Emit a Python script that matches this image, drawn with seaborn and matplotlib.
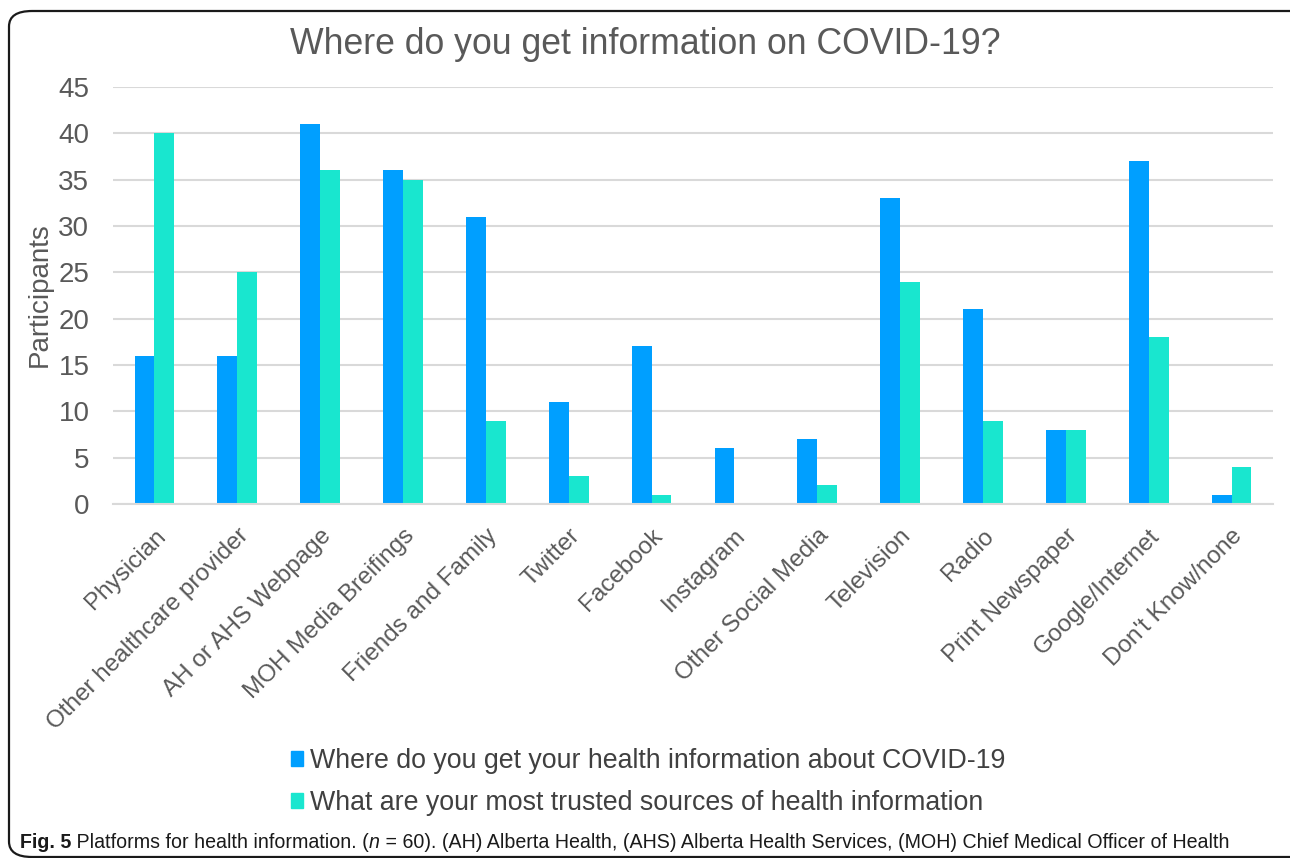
import matplotlib
matplotlib.use("Agg")
import matplotlib.pyplot as plt
from matplotlib.patches import FancyBboxPatch
import seaborn as sns
import pandas as pd

# Survey responses per information source (n = 60)
sources = [
    "Physician", "Other healthcare provider", "AH or AHS Webpage",
    "MOH Media Breifings", "Friends and Family", "Twitter", "Facebook",
    "Instagram", "Other Social Media", "Television", "Radio",
    "Print Newspaper", "Google/Internet", "Don't Know/none",
]
get_info = [16, 16, 41, 36, 31, 11, 17, 6, 7, 33, 21, 8, 37, 1]
trusted = [40, 25, 36, 35, 9, 3, 1, 0, 2, 24, 9, 8, 18, 4]
series_names = [
    "Where do you get your health information about COVID-19",
    "What are your most trusted sources of health information",
]
y_ticks = [0, 5, 10, 15, 20, 25, 30, 35, 40, 45]

df = pd.DataFrame({
    "Source": sources * 2,
    "Participants": get_info + trusted,
    "Series": [series_names[0]] * len(sources) + [series_names[1]] * len(sources),
})

sns.set_theme(style="white")
plt.rcParams["font.family"] = ["Liberation Sans", "DejaVu Sans"]

TEXT = "#595959"
palette = {series_names[0]: "#009FFF", series_names[1]: "#19E6CF"}

fig = plt.figure(figsize=(12.9, 8.58), dpi=100)
ax = fig.add_axes([113 / 1290, 354 / 858, 1160 / 1290, 417 / 858])

sns.barplot(data=df, x="Source", y="Participants", hue="Series",
            palette=palette, width=0.48, saturation=1, ax=ax,
            legend=False, edgecolor="none")

ax.set_ylim(0, 45)
ax.set_xlim(-0.5, len(sources) - 0.5)
ax.set_yticks(y_ticks)
ax.set_yticklabels([str(v) for v in y_ticks], fontsize=20, color=TEXT)
ax.tick_params(axis="y", length=0, pad=17)
ax.tick_params(axis="x", length=0, pad=15)
ax.set_xticks(range(len(sources)))
ax.set_xticklabels(sources, rotation=45, ha="right", rotation_mode="anchor",
                   fontsize=17.5, color=TEXT)
ax.set_xlabel("")
ax.set_ylabel("Participants", fontsize=20, color=TEXT)
ax.yaxis.set_label_coords(-60 / 1160, (504 - 295) / 417)

ax.grid(axis="y", color="#d9d9d9", linewidth=1.5)
ax.set_axisbelow(True)
for side in ["top", "right", "left"]:
    ax.spines[side].set_visible(False)
ax.spines["bottom"].set_color("#d9d9d9")
ax.spines["bottom"].set_linewidth(1.5)

fig.text(0.5, 1 - 44 / 858, "Where do you get information on COVID-19?",
         ha="center", va="center", fontsize=25.7, color=TEXT)

# Legend below the category labels
handles = [plt.Rectangle((0, 0), 1, 1, color=palette[s]) for s in series_names]
fig.legend(handles, series_names, loc="upper left",
           bbox_to_anchor=(267 / 1290, 1 - 724 / 858), frameon=False,
           fontsize=19.3, handlelength=0.45, handleheight=0.45,
           handletextpad=0.25, labelspacing=0.6, labelcolor="#404040")

# Rounded frame around the figure panel
frame = FancyBboxPatch((9 / 1290, 1 - 857 / 858), 1.05, (857 - 11) / 858,
                       boxstyle="round,pad=0,rounding_size=0.018",
                       transform=fig.transFigure, fill=False,
                       edgecolor="#1a1a1a", linewidth=1.6, clip_on=False)
fig.patches.append(frame)

# Caption with bold figure number and italic n
fig.canvas.draw()
renderer = fig.canvas.get_renderer()
cap_y = 1 - 842 / 858
cap_font = ["Liberation Sans", "DejaVu Sans"]
pieces = [
    ("Fig. 5", "bold", "normal"),
    (" Platforms for health information. (", "normal", "normal"),
    ("n", "normal", "italic"),
    (" = 60). (AH) Alberta Health, (AHS) Alberta Health Services, "
     "(MOH) Chief Medical Officer of Health", "normal", "normal"),
]
x = 20
for txt, weight, style in pieces:
    t = fig.text(x / 1290, cap_y, txt, ha="left", va="center", fontsize=14.1,
                 fontweight=weight, fontstyle=style, color="#1a1a1a",
                 family=cap_font)
    bb = t.get_window_extent(renderer)
    x += bb.width

fig.savefig("out.png", dpi=100, facecolor="white")
